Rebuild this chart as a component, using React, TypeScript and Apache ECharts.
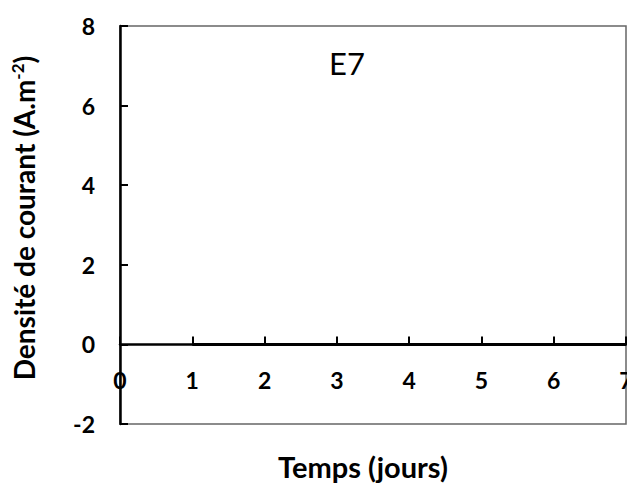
import React, { useEffect, useRef } from "react";
import * as echarts from "echarts";

const xTicks = [0, 1, 2, 3, 4, 5, 6, 7];
const yTicks = [-2, 0, 2, 4, 6, 8];
const timeDays = [1, 2, 3, 4, 5, 6, 7];
const currentDensity = [0, 0, 0, 0, 0, 0, 0];
const panelLabel = "E7";
const xTitle = "Temps (jours)";

export default function App() {
  const ref = useRef<HTMLDivElement>(null);
  useEffect(() => {
    if (!ref.current) return;
    const chart = echarts.init(ref.current, null, { renderer: "svg" });
    const font = "Lato";
    chart.setOption({
      animation: false,
      textStyle: { fontFamily: font },
      title: {
        text: panelLabel,
        left: 324,
        top: 42,
        textStyle: { fontFamily: font, fontSize: 31, fontWeight: "normal", color: "#000" },
      },
      grid: {
        left: 120,
        right: 1,
        top: 26,
        bottom: 60,
        show: true,
        borderColor: "#666",
        borderWidth: 1.5,
        containLabel: false,
        outerBoundsMode: "none",
      },
      xAxis: {
        type: "value",
        min: xTicks[0],
        max: xTicks[xTicks.length - 1],
        interval: 1,
        name: xTitle,
        nameLocation: "middle",
        nameGap: 28,
        nameTextStyle: { fontFamily: font, fontSize: 29, fontWeight: "bold", color: "#000", padding: [0, 20, 0, 0] },
        axisLine: { onZero: true, lineStyle: { color: "#000", width: 2.5 } },
        axisTick: { inside: true, length: 8, lineStyle: { color: "#000", width: 2 } },
        axisLabel: { margin: -56, fontFamily: font, fontSize: 23, fontWeight: "bold", color: "#000" },
        splitLine: { show: false },
      },
      yAxis: {
        type: "value",
        min: yTicks[0],
        max: yTicks[yTicks.length - 1],
        interval: 2,
        name: "Densité de courant (A.m{sup|-2})",
        nameLocation: "middle",
        nameGap: 82,
        nameRotate: 90,
        nameTextStyle: {
          fontFamily: font,
          fontSize: 28,
          fontWeight: "bold",
          color: "#000",
          padding: [0, 0, 0, 14],
          rich: {
            sup: { fontFamily: font, fontSize: 17, fontWeight: "bold", color: "#000", verticalAlign: "top", padding: [0, 0, 12, 0] },
          },
        },
        axisLine: { onZero: true, lineStyle: { color: "#000", width: 2.5 } },
        axisTick: { inside: true, length: 8, lineStyle: { color: "#000", width: 2 } },
        axisLabel: { margin: 25, fontFamily: font, fontSize: 23, fontWeight: "bold", color: "#000" },
        splitLine: { show: false },
      },
      series: [
        {
          type: "line",
          data: timeDays.map((d, i) => [d, currentDensity[i]]),
          symbol: "none",
          lineStyle: { color: "#000", width: 3 },
        },
      ],
    });
    return () => chart.dispose();
  }, []);
  return <div ref={ref} style={{ width: 627, height: 484, position: "absolute", left: 0, top: 0 }} />;
}
